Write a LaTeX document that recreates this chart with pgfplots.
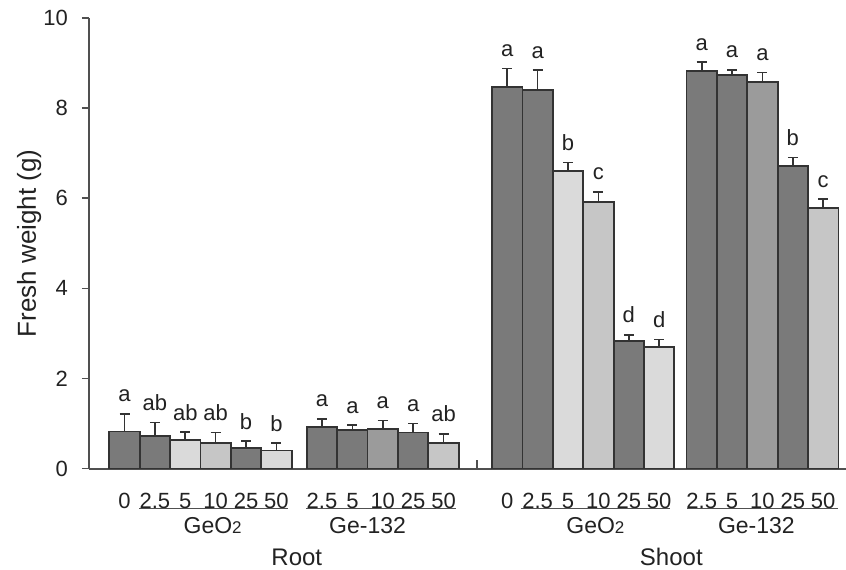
\documentclass[border=0pt]{standalone}
\usepackage{fontspec}
\setmainfont{Liberation Sans}
\usepackage{pgfplots}
\pgfplotsset{compat=1.18}

\definecolor{axisgray}{HTML}{505050}
\definecolor{edgegray}{HTML}{333333}
\definecolor{txtgray}{HTML}{222222}
\definecolor{bdark}{HTML}{7A7A7A}
\definecolor{bmid}{HTML}{9B9B9B}
\definecolor{blight}{HTML}{C6C6C6}
\definecolor{bvlight}{HTML}{DADADA}

\newcommand{\tkfont}{\fontsize{11}{13}\selectfont}
\newcommand{\grpfont}{\fontsize{11.5}{13}\selectfont}
\newcommand{\rsfont}{\fontsize{12}{14}\selectfont}
\newcommand{\subfont}{\fontsize{8.5}{10}\selectfont}

\begin{document}
\begin{tikzpicture}
\useasboundingbox (-44.5pt,-50.25pt) rectangle (378.5pt,234.25pt);
\begin{axis}[
    scale only axis,
    width=378.5pt, height=225.25pt,
    xmin=-0.17, xmax=24.75, ymin=0, ymax=10,
    axis x line*=bottom, axis y line*=left,
    axis line style={axisgray, line width=1pt, -},
    clip=false,
    ytick={0,2,...,10},
    tick align=outside,
    major tick length=3.5pt,
    ytick style={axisgray, line width=0.8pt},
    xtick={1,2,3,4,5,6,7.5,8.5,9.5,10.5,11.5,13.6,14.6,15.6,16.6,17.6,18.6,20,21,22,23,24},
    xticklabels={0,2.5,5,10,25,50,2.5,5,10,25,50,0,2.5,5,10,25,50,2.5,5,10,25,50},
    xtick style={draw=none},
    extra x ticks={12.6},
    extra x tick labels={},
    extra x tick style={tick align=inside, major tick length=4.5pt,
                        xtick style={draw=axisgray, line width=0.8pt}},
    /pgf/number format/assume math mode=true,
    tick label style={font=\tkfont, text=txtgray},
    yticklabel style={xshift=-3.5pt},
    xticklabel style={anchor=base, yshift=-16.25pt},
    ylabel={Fresh weight (g)},
    ylabel style={font=\fontsize{13}{15}\selectfont, text=txtgray,
                  at={(axis description cs:-0.079,0.5)}, anchor=center},
    error bars/y dir=plus, error bars/y explicit,
    error bars/error bar style={edgegray, line width=0.8pt},
    error bars/error mark options={edgegray, line width=0.8pt, mark size=2.5pt, rotate=90},
]
% dark bars
\addplot[ybar, bar shift=0pt, bar width=1, fill=bdark, draw=edgegray, line width=0.9pt]
  coordinates {
  (1,0.82) +- (0,0.39)
  (2,0.72) +- (0,0.30)
  (5,0.45) +- (0,0.16)
  (7.5,0.93) +- (0,0.17)
  (8.5,0.86) +- (0,0.10)
  (10.5,0.80) +- (0,0.20)
  (13.6,8.47) +- (0,0.41)
  (14.6,8.41) +- (0,0.43)
  (17.6,2.83) +- (0,0.14)
  (20,8.82) +- (0,0.20)
  (21,8.74) +- (0,0.11)
  (23,6.71) +- (0,0.19)
};
% medium bars
\addplot[ybar, bar shift=0pt, bar width=1, fill=bmid, draw=edgegray, line width=0.9pt]
  coordinates {
  (9.5,0.88) +- (0,0.19)
  (22,8.58) +- (0,0.21)
};
% light bars
\addplot[ybar, bar shift=0pt, bar width=1, fill=blight, draw=edgegray, line width=0.9pt]
  coordinates {
  (4,0.57) +- (0,0.23)
  (11.5,0.57) +- (0,0.20)
  (16.6,5.91) +- (0,0.23)
  (24,5.78) +- (0,0.20)
};
% very light bars
\addplot[ybar, bar shift=0pt, bar width=1, fill=bvlight, draw=edgegray, line width=0.9pt]
  coordinates {
  (3,0.63) +- (0,0.18)
  (6,0.40) +- (0,0.16)
  (15.6,6.61) +- (0,0.18)
  (18.6,2.69) +- (0,0.17)
};
% significance letters, placed above the error bar tops
\addplot[draw=none, mark=none, nodes near coords, point meta=explicit symbolic,
         every node near coord/.append style={anchor=base, yshift=6pt, font=\tkfont, text=txtgray}]
  table[meta=lab] {
  x ytop lab
  1 1.21 a
  2 1.02 ab
  3 0.81 ab
  4 0.80 ab
  5 0.61 b
  6 0.56 b
  7.5 1.10 a
  8.5 0.96 a
  9.5 1.07 a
  10.5 1.00 a
  11.5 0.77 ab
  13.6 8.88 a
  14.6 8.84 a
  15.6 6.79 b
  16.6 6.14 c
  17.6 2.97 d
  18.6 2.86 d
  20 9.02 a
  21 8.85 a
  22 8.79 a
  23 6.90 b
  24 5.98 c
};
% group brackets and labels
\draw[axisgray, line width=0.8pt] ([yshift=-20pt]axis cs:1.48,0) -- ([yshift=-20pt]axis cs:6.38,0);
\draw[axisgray, line width=0.8pt] ([yshift=-20pt]axis cs:6.97,0) -- ([yshift=-20pt]axis cs:11.9,0);
\draw[axisgray, line width=0.8pt] ([yshift=-20pt]axis cs:14.04,0) -- ([yshift=-20pt]axis cs:18.94,0);
\draw[axisgray, line width=0.8pt] ([yshift=-20pt]axis cs:19.53,0) -- ([yshift=-20pt]axis cs:24.5,0);
\node[anchor=base, font=\grpfont, text=txtgray, yshift=-32.25pt] at (axis cs:3.9,0) {GeO{\subfont 2}};
\node[anchor=base, font=\grpfont, text=txtgray, yshift=-32.25pt] at (axis cs:9.0,0) {Ge-132};
\node[anchor=base, font=\grpfont, text=txtgray, yshift=-32.25pt] at (axis cs:16.5,0) {GeO{\subfont 2}};
\node[anchor=base, font=\grpfont, text=txtgray, yshift=-32.25pt] at (axis cs:21.8,0) {Ge-132};
\node[anchor=base, font=\rsfont, text=txtgray, yshift=-48.5pt, inner sep=1pt] at (axis cs:6.67,0) {Root};
\node[anchor=base, font=\rsfont, text=txtgray, yshift=-48.5pt, inner sep=1pt] at (axis cs:19.0,0) {Shoot};
\end{axis}
\end{tikzpicture}
\end{document}
